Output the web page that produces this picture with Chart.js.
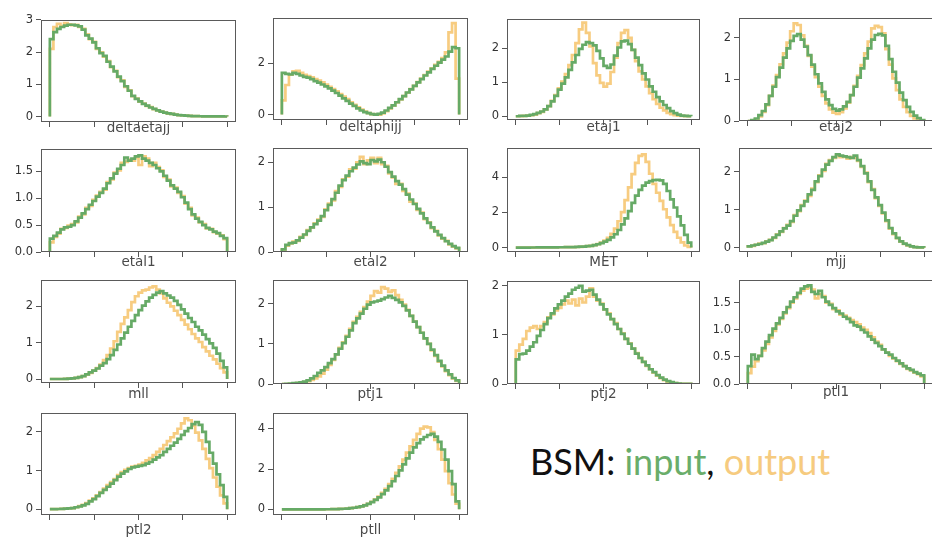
<!DOCTYPE html>
<html>
<head>
<meta charset="utf-8">
<script src="https://cdn.jsdelivr.net/npm/chart.js@4.4.1/dist/chart.umd.min.js"></script>
<style>
html,body{margin:0;padding:0;background:#fff;width:932px;height:541px;overflow:hidden;position:relative}
canvas{position:absolute}
#legend{position:absolute;left:530px;top:443px;font-family:Lato,"Open Sans",sans-serif;font-size:36px;line-height:1;white-space:nowrap;color:#111}
</style>
</head>
<body>
<div id="legend"><span style="color:#111">BSM: </span><span style="color:#6aad6a">input</span><span style="color:#111">, </span><span style="color:#f6cb7f">output</span></div>
<script>
// ---------------- DATA (50 bins each) ----------------
const deltaetajj_input  = [2.40,2.62,2.72,2.78,2.82,2.85,2.85,2.83,2.80,2.70,2.52,2.42,2.30,2.12,1.97,1.88,1.70,1.55,1.40,1.24,1.10,0.94,0.80,0.64,0.55,0.47,0.39,0.34,0.28,0.24,0.19,0.15,0.12,0.10,0.08,0.06,0.045,0.035,0.025,0.02,0.015,0.01,0.008,0.006,0.005,0.004,0.003,0.002,0.002,0.001];
const deltaetajj_output = [2.10,2.78,2.88,2.80,2.90,2.86,2.84,2.85,2.78,2.72,2.55,2.40,2.32,2.10,1.99,1.86,1.72,1.53,1.42,1.22,1.12,0.92,0.81,0.63,0.56,0.46,0.40,0.33,0.29,0.23,0.19,0.15,0.12,0.09,0.08,0.06,0.04,0.035,0.025,0.02,0.014,0.01,0.008,0.006,0.005,0.004,0.003,0.002,0.002,0.001];

const deltaphijj_input  = [1.62,1.58,1.56,1.62,1.58,1.52,1.47,1.44,1.38,1.30,1.24,1.17,1.10,1.02,0.93,0.84,0.74,0.63,0.53,0.43,0.34,0.24,0.16,0.10,0.06,0.02,0.00,0.03,0.08,0.16,0.26,0.36,0.48,0.60,0.72,0.86,0.98,1.12,1.25,1.38,1.52,1.64,1.78,1.90,2.02,2.14,2.26,2.45,2.62,2.58];
const deltaphijj_output = [0.55,1.15,1.55,1.68,1.70,1.62,1.55,1.50,1.45,1.38,1.32,1.25,1.17,1.08,0.99,0.90,0.80,0.70,0.60,0.48,0.38,0.28,0.19,0.12,0.06,0.02,0.00,0.00,0.05,0.13,0.24,0.35,0.47,0.59,0.72,0.85,0.99,1.12,1.26,1.40,1.54,1.67,1.80,1.93,2.05,2.20,2.42,3.20,3.56,1.40];

const etaj1_input  = [0.00,0.01,0.01,0.02,0.04,0.06,0.10,0.14,0.20,0.30,0.44,0.60,0.78,0.96,1.14,1.36,1.58,1.80,1.98,2.10,2.18,2.15,2.08,1.92,1.70,1.48,1.42,1.52,1.78,2.02,2.20,2.22,2.12,1.95,1.72,1.50,1.26,1.08,0.88,0.72,0.56,0.44,0.33,0.24,0.15,0.09,0.05,0.02,0.01,0.005];
const etaj1_output = [0.00,0.005,0.01,0.02,0.03,0.05,0.09,0.13,0.20,0.30,0.45,0.62,0.82,1.02,1.24,1.50,1.80,2.15,2.55,2.75,2.45,2.05,1.56,1.20,0.98,0.87,0.96,1.30,1.72,2.15,2.45,2.53,2.30,1.95,1.62,1.32,1.08,0.88,0.68,0.50,0.36,0.25,0.17,0.10,0.06,0.03,0.015,0.01,0.005,0.00];

const etaj2_input  = [0.00,0.02,0.06,0.14,0.24,0.40,0.60,0.82,1.05,1.28,1.52,1.74,1.92,2.04,2.08,1.95,1.78,1.58,1.35,1.12,0.90,0.70,0.52,0.38,0.29,0.25,0.28,0.35,0.46,0.62,0.82,1.04,1.26,1.50,1.74,1.95,2.06,2.09,2.05,1.80,1.48,1.18,0.92,0.68,0.50,0.34,0.22,0.13,0.07,0.02];
const etaj2_output = [0.00,0.01,0.04,0.11,0.22,0.38,0.60,0.85,1.10,1.36,1.62,1.88,2.15,2.34,2.30,2.05,1.80,1.56,1.30,1.05,0.82,0.60,0.42,0.28,0.20,0.17,0.21,0.30,0.44,0.62,0.84,1.08,1.34,1.62,1.90,2.22,2.28,2.25,2.10,1.72,1.35,1.02,0.74,0.52,0.34,0.21,0.12,0.06,0.03,0.01];

const etal1_input  = [0.25,0.30,0.36,0.42,0.46,0.47,0.50,0.57,0.64,0.72,0.80,0.88,0.95,1.03,1.10,1.18,1.28,1.37,1.46,1.55,1.62,1.76,1.70,1.74,1.78,1.80,1.74,1.70,1.66,1.62,1.56,1.50,1.42,1.33,1.24,1.18,1.12,1.02,0.92,0.80,0.70,0.62,0.56,0.50,0.45,0.42,0.38,0.35,0.30,0.26];
const etal1_output = [0.18,0.28,0.34,0.43,0.45,0.49,0.52,0.55,0.66,0.70,0.82,0.86,0.97,1.05,1.12,1.16,1.30,1.35,1.48,1.52,1.66,1.68,1.72,1.70,1.76,1.62,1.78,1.74,1.60,1.66,1.58,1.52,1.40,1.35,1.22,1.20,1.10,1.04,0.90,0.82,0.68,0.64,0.55,0.52,0.44,0.43,0.37,0.34,0.31,0.24];

const etal2_input  = [0.06,0.16,0.20,0.21,0.26,0.32,0.39,0.47,0.55,0.62,0.70,0.80,0.93,1.05,1.18,1.32,1.48,1.60,1.70,1.80,1.88,1.95,2.02,1.98,1.96,2.05,2.02,2.06,2.00,1.90,1.78,1.68,1.58,1.50,1.40,1.28,1.17,1.07,0.96,0.86,0.75,0.65,0.55,0.46,0.38,0.31,0.24,0.18,0.13,0.09];
const etal2_output = [0.04,0.14,0.19,0.23,0.25,0.34,0.38,0.49,0.54,0.64,0.72,0.78,0.95,1.08,1.15,1.36,1.45,1.62,1.68,1.84,1.86,2.00,2.12,1.96,2.04,2.10,1.98,2.10,1.96,1.92,1.75,1.66,1.52,1.52,1.36,1.30,1.12,1.08,0.94,0.88,0.73,0.66,0.53,0.47,0.37,0.30,0.25,0.17,0.12,0.08];

const MET_input  = [0.00,0.00,0.00,0.00,0.005,0.005,0.01,0.01,0.01,0.01,0.015,0.015,0.02,0.02,0.025,0.03,0.03,0.04,0.05,0.06,0.08,0.10,0.14,0.19,0.26,0.34,0.44,0.58,0.76,1.00,1.32,1.66,2.08,2.54,2.96,3.28,3.52,3.70,3.78,3.84,3.86,3.82,3.62,3.22,2.74,2.28,1.78,1.26,0.72,0.28];
const MET_output = [0.00,0.00,0.00,0.00,0.003,0.005,0.008,0.01,0.01,0.01,0.012,0.015,0.02,0.02,0.025,0.03,0.03,0.035,0.045,0.06,0.08,0.10,0.14,0.20,0.28,0.40,0.56,0.78,1.08,1.50,2.02,2.70,3.42,4.18,4.82,5.22,5.30,4.88,4.20,3.62,3.12,2.66,2.18,1.72,1.28,0.90,0.56,0.30,0.12,0.04];

const mjj_input  = [0.04,0.06,0.08,0.10,0.13,0.16,0.20,0.27,0.34,0.43,0.51,0.58,0.70,0.84,0.98,1.10,1.22,1.40,1.52,1.74,1.88,2.05,2.18,2.28,2.38,2.45,2.42,2.40,2.38,2.36,2.42,2.30,2.14,1.95,1.74,1.52,1.32,1.12,0.92,0.72,0.52,0.38,0.26,0.17,0.11,0.07,0.04,0.02,0.01,0.01];
const mjj_output = [0.04,0.05,0.08,0.11,0.12,0.17,0.21,0.26,0.35,0.42,0.52,0.60,0.68,0.86,0.96,1.12,1.24,1.36,1.55,1.72,1.90,2.02,2.20,2.30,2.36,2.42,2.38,2.40,2.34,2.38,2.36,2.28,2.12,1.97,1.72,1.54,1.30,1.10,0.90,0.70,0.50,0.36,0.25,0.16,0.10,0.06,0.04,0.02,0.01,0.005];

const mll_input  = [0.00,0.00,0.00,0.00,0.005,0.01,0.015,0.03,0.05,0.08,0.13,0.18,0.23,0.29,0.37,0.44,0.55,0.66,0.80,0.95,1.12,1.28,1.44,1.60,1.76,1.90,2.02,2.14,2.24,2.32,2.38,2.42,2.36,2.30,2.24,2.15,2.04,1.92,1.80,1.68,1.57,1.44,1.34,1.22,1.10,0.98,0.86,0.70,0.50,0.32];
const mll_output = [0.00,0.00,0.00,0.00,0.005,0.01,0.015,0.03,0.05,0.08,0.12,0.17,0.23,0.30,0.40,0.52,0.66,0.84,1.04,1.30,1.52,1.70,1.90,2.12,2.28,2.38,2.44,2.46,2.52,2.55,2.46,2.36,2.22,2.10,2.00,1.88,1.76,1.63,1.50,1.37,1.24,1.12,1.02,0.88,0.76,0.64,0.54,0.42,0.30,0.18];

const ptj1_input  = [0.00,0.005,0.01,0.02,0.03,0.04,0.06,0.09,0.14,0.20,0.28,0.34,0.42,0.52,0.62,0.74,0.88,1.02,1.18,1.34,1.52,1.64,1.76,1.88,1.98,2.04,2.06,2.08,2.12,2.16,2.20,2.15,2.10,2.04,1.95,1.84,1.70,1.56,1.42,1.28,1.14,1.00,0.86,0.72,0.58,0.46,0.34,0.24,0.15,0.09];
const ptj1_output = [0.00,0.00,0.005,0.01,0.02,0.03,0.05,0.07,0.10,0.14,0.19,0.26,0.36,0.48,0.60,0.74,0.90,1.04,1.20,1.38,1.55,1.68,1.80,1.92,2.06,2.20,2.32,2.28,2.42,2.38,2.30,2.34,2.22,2.10,1.98,1.85,1.70,1.56,1.42,1.28,1.14,1.00,0.84,0.70,0.56,0.44,0.32,0.22,0.14,0.08];

const ptj2_input  = [0.50,0.61,0.62,0.68,0.76,0.85,0.98,1.10,1.22,1.34,1.44,1.54,1.62,1.70,1.78,1.84,1.92,1.96,2.00,1.88,1.90,1.92,1.82,1.72,1.62,1.52,1.42,1.32,1.22,1.12,1.02,0.92,0.82,0.72,0.62,0.53,0.45,0.38,0.30,0.24,0.18,0.13,0.09,0.06,0.04,0.02,0.01,0.005,0.002,0.001];
const ptj2_output = [0.68,0.80,0.92,1.08,1.15,1.18,1.12,1.18,1.26,1.36,1.42,1.50,1.55,1.62,1.70,1.64,1.72,1.60,1.74,1.66,1.78,1.95,1.78,1.70,1.64,1.52,1.44,1.32,1.24,1.12,1.03,0.92,0.83,0.72,0.63,0.53,0.45,0.37,0.30,0.23,0.17,0.12,0.08,0.05,0.03,0.02,0.01,0.005,0.002,0.001];

const ptl1_input  = [0.33,0.54,0.46,0.52,0.66,0.78,0.90,1.02,1.12,1.22,1.32,1.42,1.52,1.60,1.68,1.76,1.80,1.82,1.70,1.66,1.72,1.60,1.52,1.46,1.40,1.34,1.30,1.24,1.20,1.14,1.08,1.06,1.00,0.95,0.88,0.82,0.76,0.70,0.64,0.58,0.54,0.48,0.43,0.38,0.33,0.29,0.26,0.22,0.19,0.16];
const ptl1_output = [0.20,0.32,0.42,0.52,0.62,0.74,0.86,0.98,1.10,1.20,1.30,1.40,1.50,1.58,1.66,1.72,1.76,1.78,1.74,1.58,1.66,1.62,1.50,1.48,1.38,1.36,1.28,1.26,1.22,1.18,1.14,1.10,1.04,1.00,0.94,0.86,0.78,0.72,0.64,0.58,0.52,0.47,0.42,0.37,0.33,0.28,0.25,0.21,0.18,0.14];

const ptl2_input  = [0.00,0.00,0.005,0.01,0.015,0.02,0.03,0.05,0.07,0.10,0.14,0.20,0.26,0.34,0.42,0.50,0.58,0.66,0.75,0.84,0.92,0.98,1.04,1.08,1.10,1.12,1.14,1.18,1.22,1.28,1.34,1.40,1.48,1.56,1.64,1.72,1.82,1.92,2.02,2.10,2.20,2.25,2.18,2.00,1.74,1.46,1.18,0.90,0.62,0.32];
const ptl2_output = [0.00,0.00,0.005,0.01,0.015,0.02,0.03,0.05,0.08,0.11,0.16,0.22,0.28,0.36,0.44,0.53,0.62,0.70,0.78,0.88,0.96,1.02,1.06,1.10,1.12,1.15,1.20,1.26,1.32,1.40,1.48,1.56,1.66,1.76,1.86,1.96,2.08,2.22,2.35,2.30,2.16,1.98,1.78,1.56,1.30,1.06,0.82,0.58,0.36,0.15];

const ptll_input  = [0,0,0,0,0,0,0,0,0,0.001,0.002,0.003,0.005,0.007,0.01,0.015,0.02,0.03,0.04,0.06,0.08,0.11,0.15,0.20,0.27,0.36,0.47,0.60,0.76,0.95,1.16,1.40,1.66,1.94,2.24,2.54,2.82,3.08,3.30,3.48,3.60,3.70,3.76,3.62,3.36,2.98,2.48,1.90,1.26,0.40];
const ptll_output = [0,0,0,0,0,0,0,0,0,0.001,0.002,0.003,0.005,0.007,0.01,0.015,0.02,0.03,0.04,0.06,0.08,0.11,0.15,0.21,0.28,0.38,0.50,0.64,0.82,1.02,1.26,1.52,1.82,2.14,2.48,2.82,3.14,3.46,3.76,4.02,4.12,4.08,3.84,3.46,3.00,2.48,1.90,1.30,0.74,0.28];

// tick labels (y axis) per panel
const ticks_deltaetajj = [0,1,2,3];
const ticks_deltaphijj = [0,2];
const ticks_etaj1 = [0,1,2];
const ticks_etaj2 = [0,1,2];
const ticks_etal1 = [0.0,0.5,1.0,1.5];
const ticks_etal2 = [0,1,2];
const ticks_MET = [0,2,4];
const ticks_mjj = [0,1,2];
const ticks_mll = [0,1,2];
const ticks_ptj1 = [0,1,2];
const ticks_ptj2 = [0,1,2];
const ticks_ptl1 = [0.0,0.5,1.0,1.5];
const ticks_ptl2 = [0,1,2];
const ticks_ptll = [0,2,4];

// ---------------- LAYOUT ----------------
const GREEN = '#66aa66';
const ORANGE = '#f7cc80';
const NB = 50;
const colTicks = [[50,227],[282.3,459],[515.7,691],[748,924]];
const panels = [
  {name:'deltaetajj', inp:deltaetajj_input, out:deltaetajj_output, col:0, top:14, bottom:122, ymin:-0.17, ymax:3.0, yt:ticks_deltaetajj, dec:0, lab:6},
  {name:'deltaphijj', inp:deltaphijj_input, out:deltaphijj_output, col:1, top:12, bottom:120, ymin:-0.21, ymax:3.76, yt:ticks_deltaphijj, dec:0, lab:7},
  {name:'etaj1', inp:etaj1_input, out:etaj1_output, col:2, top:13, bottom:120, ymin:-0.11, ymax:2.86, yt:ticks_etaj1, dec:0, lab:7},
  {name:'etaj2', inp:etaj2_input, out:etaj2_output, col:3, top:12, bottom:121, ymin:0, ymax:2.47, yt:ticks_etaj2, dec:0, lab:6},
  {name:'etal1', inp:etal1_input, out:etal1_output, col:0, top:143, bottom:252, ymin:0, ymax:1.92, yt:ticks_etal1, dec:1, lab:10},
  {name:'etal2', inp:etal2_input, out:etal2_output, col:1, top:142, bottom:252, ymin:0, ymax:2.32, yt:ticks_etal2, dec:0, lab:10},
  {name:'MET', inp:MET_input, out:MET_output, col:2, top:142, bottom:252, ymin:-0.25, ymax:5.67, yt:ticks_MET, dec:0, lab:10},
  {name:'mjj', inp:mjj_input, out:mjj_output, col:3, top:142, bottom:252, ymin:-0.11, ymax:2.62, yt:ticks_mjj, dec:0, lab:10},
  {name:'mll', inp:mll_input, out:mll_output, col:0, top:274, bottom:383, ymin:-0.11, ymax:2.73, yt:ticks_mll, dec:0, lab:11},
  {name:'ptj1', inp:ptj1_input, out:ptj1_output, col:1, top:274, bottom:384, ymin:0, ymax:2.6, yt:ticks_ptj1, dec:0, lab:10},
  {name:'ptj2', inp:ptj2_input, out:ptj2_output, col:2, top:275, bottom:384, ymin:0, ymax:2.1, yt:ticks_ptj2, dec:0, lab:10},
  {name:'ptl1', inp:ptl1_input, out:ptl1_output, col:3, top:274, bottom:384, ymin:0, ymax:1.92, yt:ticks_ptl1, dec:1, lab:8},
  {name:'ptl2', inp:ptl2_input, out:ptl2_output, col:0, top:407, bottom:515, ymin:-0.15, ymax:2.49, yt:ticks_ptl2, dec:0, lab:15},
  {name:'ptll', inp:ptll_input, out:ptll_output, col:1, top:407, bottom:515, ymin:-0.28, ymax:4.8, yt:ticks_ptll, dec:0, lab:15}
];

function toSteps(vals){
  const pts = [{x:0, y:0}];
  vals.forEach((v,i)=>pts.push({x:i, y:v}));
  pts.push({x:vals.length, y:0});
  return pts;
}

const framePlugin = {
  id:'frame',
  afterDatasetsDraw(chart){
    const a = chart.chartArea, ctx = chart.ctx;
    ctx.save();
    ctx.strokeStyle = '#5a5a5a';
    ctx.lineWidth = 1;
    ctx.strokeRect(Math.round(a.left)+0.5, Math.round(a.top)+0.5, Math.round(a.right-a.left)-1, Math.round(a.bottom-a.top)-1);
    ctx.restore();
  }
};

Chart.defaults.font.family = '"DejaVu Sans", sans-serif';

const PADL = 46, PADT = 4, PADR = 4, PADB = 32;
const TITLE_SIZE = 13.5, TITLE_LH = 1.2;

panels.forEach(p=>{
  const [t0,t1] = colTicks[p.col];
  const W = t1 - t0;
  const boxL = Math.round(t0 - 0.05*W), boxR = Math.round(t1 + 0.05*W);
  const cw = (boxR - boxL) + PADL + PADR;
  const ch = (p.bottom - p.top) + PADT + PADB;
  const c = document.createElement('canvas');
  c.width = cw; c.height = ch;
  c.style.width = cw+'px'; c.style.height = ch+'px';
  c.style.left = (boxL - PADL)+'px';
  c.style.top = (p.top - PADT)+'px';
  document.body.appendChild(c);
  const padBottom = PADB - p.lab - TITLE_SIZE*TITLE_LH/2;
  new Chart(c, {
    type:'line',
    data:{datasets:[
      {label:'input', data:toSteps(p.inp), borderColor:GREEN, borderWidth:2.7, stepped:true, pointRadius:0, fill:false},
      {label:'output', data:toSteps(p.out), borderColor:ORANGE, borderWidth:2.7, stepped:true, pointRadius:0, fill:false}
    ]},
    options:{
      responsive:false, animation:false, devicePixelRatio:1,
      layout:{padding:{top:PADT, right:PADR, left:0, bottom:0}},
      plugins:{legend:{display:false}, tooltip:{enabled:false}},
      events:[],
      scales:{
        x:{type:'linear', min:-0.05*NB, max:1.05*NB,
           afterBuildTicks:s=>{s.ticks=[0,0.25,0.5,0.75,1].map(f=>({value:f*NB}));},
           ticks:{display:false},
           grid:{drawOnChartArea:false, drawTicks:true, tickLength:5, tickColor:'#555', color:'#555'},
           border:{display:false},
           title:{display:true, text:p.name, color:'#4a4a4a', font:{size:TITLE_SIZE, lineHeight:TITLE_LH}, padding:{top:0, bottom:padBottom}},
           afterFit:s=>{s.height = PADB;}
        },
        y:{type:'linear', min:p.ymin, max:p.ymax,
           afterBuildTicks:s=>{s.ticks=p.yt.map(v=>({value:v}));},
           ticks:{color:'#333', font:{size:11.5}, padding:3, callback:v=>Number(v).toFixed(p.dec)},
           grid:{drawOnChartArea:false, drawTicks:true, tickLength:5, tickColor:'#555', color:'#555'},
           border:{display:false},
           afterFit:s=>{s.width = PADL;}
        }
      }
    },
    plugins:[framePlugin]
  });
});
</script>
</body>
</html>
